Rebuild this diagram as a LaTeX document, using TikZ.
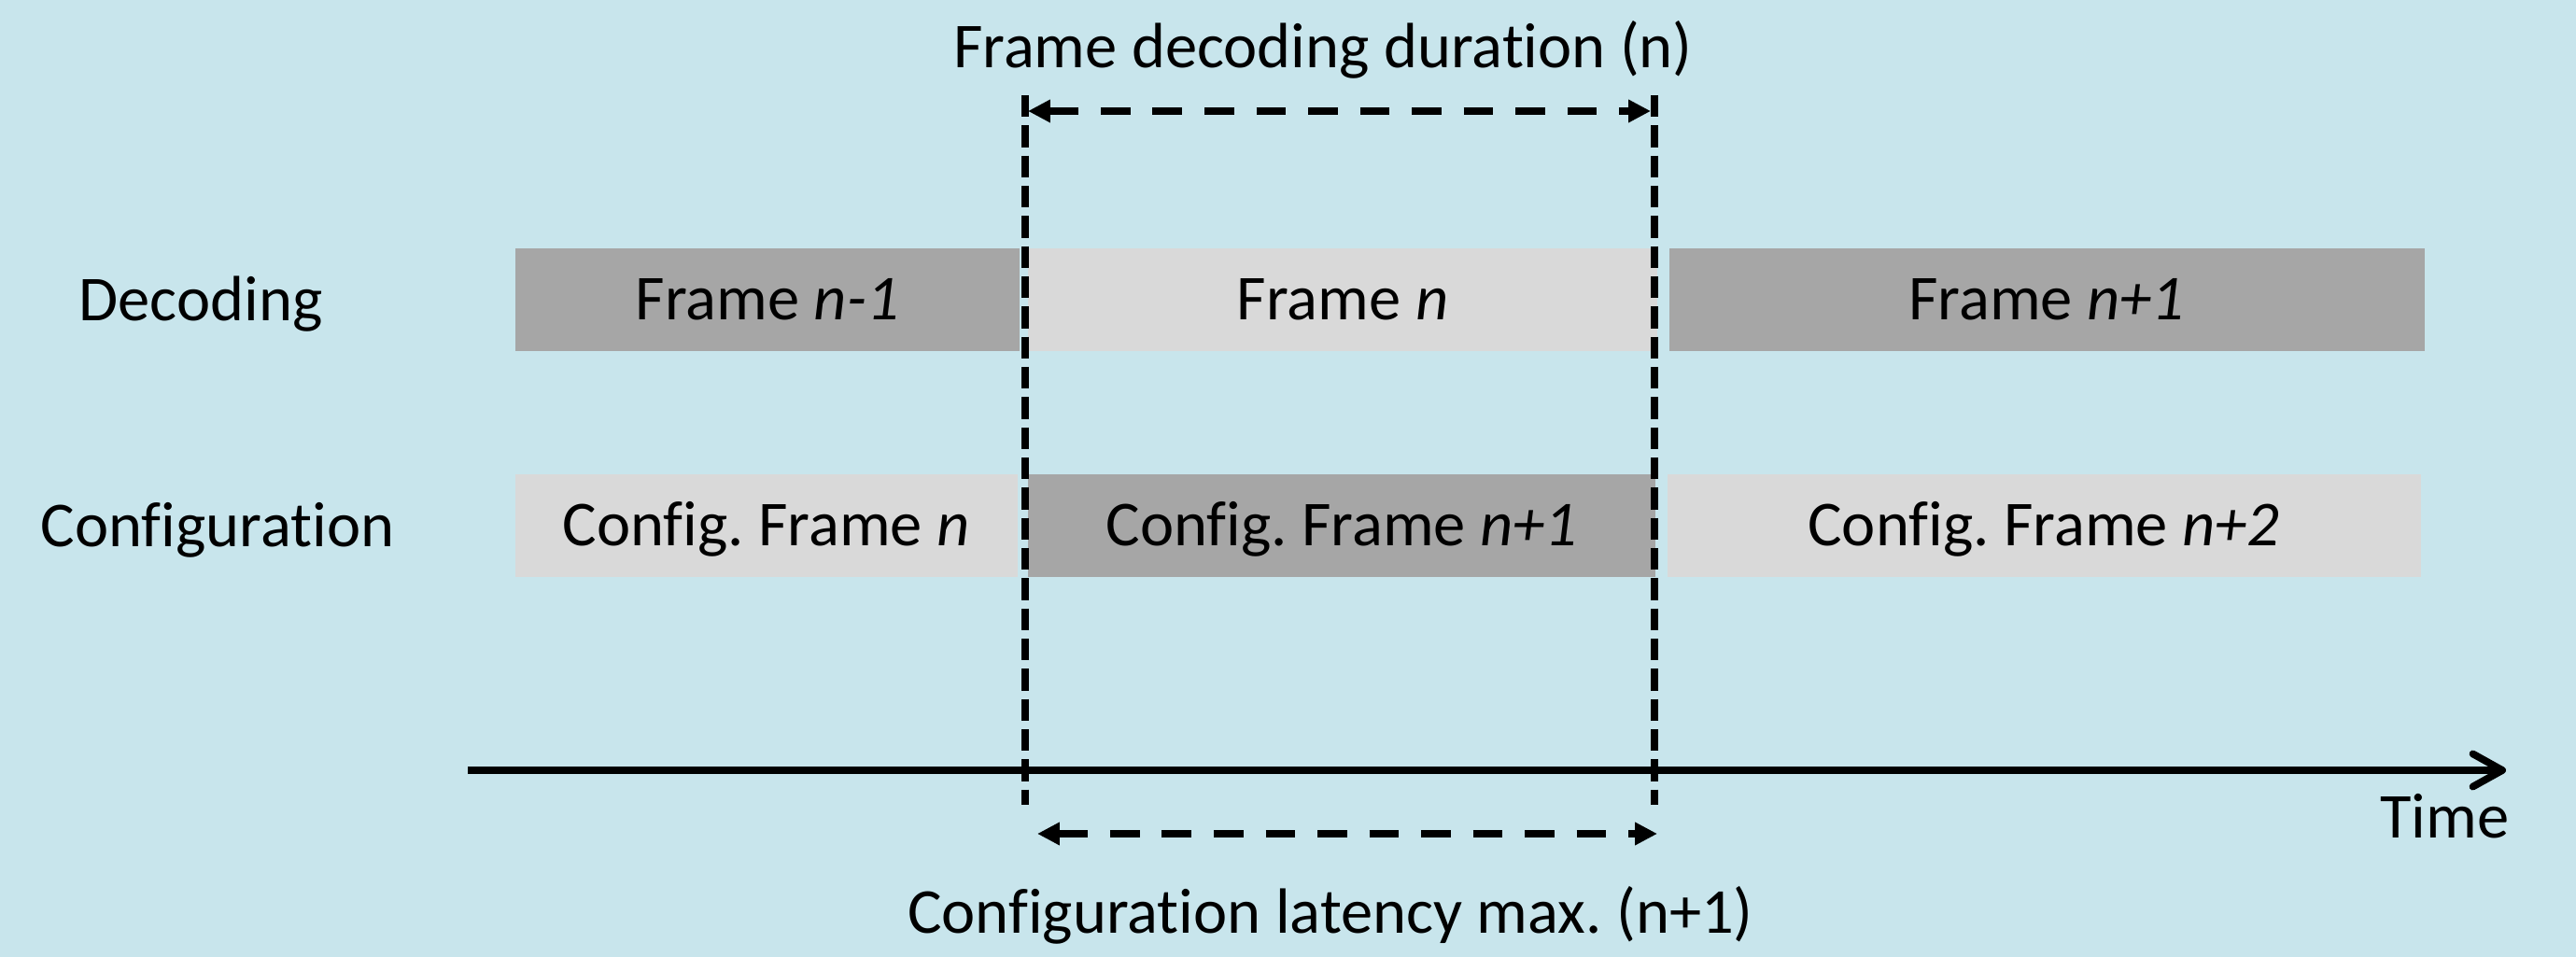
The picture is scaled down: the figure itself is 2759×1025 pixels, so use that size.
\documentclass[tikz,border=0pt]{standalone}
\usepackage{fontspec}
\setmainfont{Carlito}[Ligatures={NoCommon,NoContextual}]
\usepackage{tikz}
\usetikzlibrary{positioning, calc, arrows.meta}
\definecolor{bgblue}{RGB}{200,229,236}
\definecolor{darkbar}{RGB}{166,166,166}
\definecolor{lightbar}{RGB}{217,217,217}
\frenchspacing

\begin{document}
\begin{tikzpicture}[x=0.1mm, y=-0.1mm,
    every node/.style={font=\fontsize{19.5}{23}\selectfont, inner sep=0pt},
    bar/.style={rectangle, minimum height=11mm, text height=12.5pt, text depth=0pt},
    darkbox/.style={bar, fill=darkbar},
    lightbox/.style={bar, fill=lightbar},
    marker/.style={line width=2.3pt, dash pattern=on 6.6pt off 2.6pt},
    span/.style={line width=2pt, dash pattern=on 9pt off 6.8pt, {Triangle[length=6.8pt,width=6.6pt]}-{Triangle[length=6.8pt,width=6.6pt]}},
    timeaxis/.style={line width=2.2pt, -{Straight Barb[length=9pt,width=10pt,round]}}]
            \fill[bgblue] (0,0) rectangle (2759,1025);
            \useasboundingbox (0,0) rectangle (2759,1025);
            \node[anchor=base] (dec) at (215,344) {Decoding};
            \node[anchor=base] (conf) at (233,586) {Configuration};
            \node[darkbox, minimum width=54mm, anchor=north west] (fnm1) at (551,265) {Frame \textit{n-1}};
            \node[lightbox, minimum width=67.4mm, right=0.8mm of fnm1] (fn) {Frame \textit{n}};
            \node[darkbox, minimum width=80.9mm, right=1.1mm of fn] (fnp1) {Frame \textit{n+1}};
            \node[lightbox, minimum width=53.8mm, anchor=north west] (cfn) at (551,507) {Config. Frame \textit{n}};
            \node[darkbox, minimum width=67.2mm, right=1mm of cfn] (cfnp1) {Config. Frame \textit{n+1}};
            \node[lightbox, minimum width=80.7mm, right=1.1mm of cfnp1] (cfnp2) {Config. Frame \textit{n+2}};
            \coordinate (ltop) at (1098,102);
            \coordinate (lbot) at (1098,862);
            \coordinate (rtop) at (1772,102);
            \coordinate (rbot) at (1772,862);
            \draw[marker] (ltop) -- (lbot);
            \draw[marker] (rtop) -- (rbot);
            \node[anchor=base] (dur) at (1417,73) {Frame decoding duration (n)};
            \draw[span] ($(ltop)+(3,17)$) -- ($(rtop)+(-4,17)$);
            \coordinate (t0) at (501,825);
            \coordinate (t1) at (2684,825);
            \draw[timeaxis] (t0) -- (t1);
            \node[anchor=base east] (time) at (2688,898) {Time};
            \draw[span] ($(lbot)+(13,31)$) -- ($(rbot)+(3,31)$);
            \node[anchor=base] (lat) at (1425,1000) {Configuration latency max. (n+1)};
\end{tikzpicture}
\end{document}
